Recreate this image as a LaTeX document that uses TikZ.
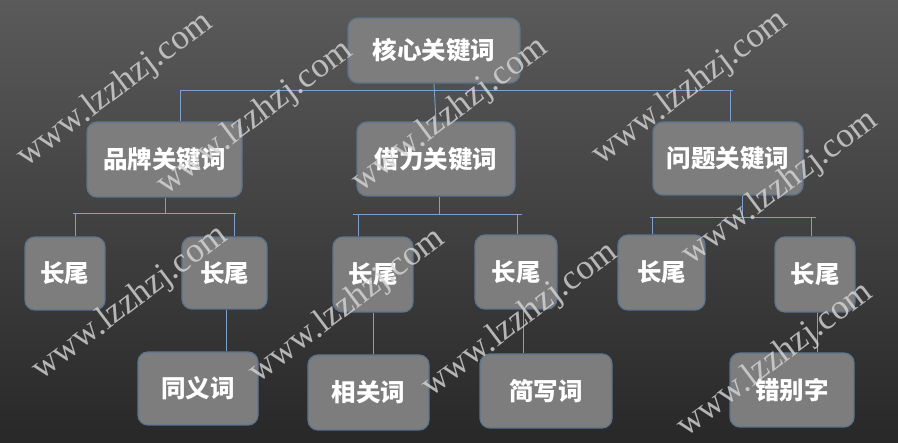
\documentclass[tikz,border=0pt]{standalone}
\usepackage{fontspec}
\setmainfont{Liberation Serif}
\newfontfamily\cjk{Noto Sans CJK SC}
\definecolor{bgtop}{RGB}{90,90,90}
\definecolor{bgbot}{RGB}{40,40,40}
\definecolor{boxfill}{RGB}{125,125,125}
\definecolor{boxline}{RGB}{92,116,142}
\definecolor{conncol}{RGB}{125,160,205}
\definecolor{wmcol}{RGB}{215,215,215}
\tikzset{
  kbox/.style={draw=boxline, line width=1.3pt, fill=boxfill, rounded corners=10pt,
    minimum width=#1, inner sep=0pt, font=\cjk\bfseries\fontsize{24.5}{28}\selectfont, text=white},
  conn/.style={draw=conncol, line width=0.9pt},
  wm/.style={text=wmcol, opacity=0.8, rotate=37, font=\fontsize{35}{38}\selectfont, inner sep=0pt}
}
\begin{document}
\begin{tikzpicture}[x=1pt, y=-1pt]
\useasboundingbox (0,0) rectangle (898,443);
\shade[top color=bgtop, bottom color=bgbot] (0,0) rectangle (898,443);
% boxes
\node[kbox=172pt, minimum height=65pt] (core) at (434,50.5) {核心关键词};
\node[kbox=155pt, minimum height=75pt] (pinpai) at (164.5,159.5) {品牌关键词};
\node[kbox=158pt, minimum height=74pt] (jieli) at (436,159) {借力关键词};
\node[kbox=150pt, minimum height=73pt] (wenti) at (728,158.5) {问题关键词};
\node[kbox=80pt, minimum height=73pt] (cw1) at (65,273.5) {长尾};
\node[kbox=85pt, minimum height=72pt] (cw2) at (224.5,273) {长尾};
\node[kbox=80pt, minimum height=75pt] (cw3) at (373,274.5) {长尾};
\node[kbox=82pt, minimum height=74pt] (cw4) at (516,272) {长尾};
\node[kbox=87pt, minimum height=75pt] (cw5) at (661.5,272.5) {长尾};
\node[kbox=80pt, minimum height=75pt] (cw6) at (815,274.5) {长尾};
\node[kbox=120pt, minimum height=73pt] (tyc) at (198,388.5) {同义词};
\node[kbox=121pt, minimum height=75pt] (xgc) at (368.5,392.5) {相关词};
\node[kbox=132pt, minimum height=74pt] (jxc) at (546,391) {简写词};
\node[kbox=124pt, minimum height=74pt] (cbz) at (792,390) {错别字};
% level 1 connectors
\coordinate (b1L) at (180,90);
\coordinate (b1R) at (733,90);
\draw[conn] (b1L) -- (b1R);
\draw[conn] (core.south) -- (jieli.north);
\draw[conn] (b1L) -- (b1L |- pinpai.north);
\draw[conn] ([xshift=-3pt]b1R) -- ([xshift=-3pt]b1R |- wenti.north);
% level 2: pinpai
\coordinate (p1) at (165,213);
\coordinate (p1L) at (73,213);
\coordinate (p1R) at (236,213);
\draw[conn] (p1 |- pinpai.south) -- (p1);
\draw[conn] (p1L) -- (p1R);
\draw[conn] ([xshift=2pt]p1L) -- ([xshift=2pt]p1L |- cw1.north);
\draw[conn] ([xshift=-2pt]p1R) -- ([xshift=-2pt]p1R |- cw2.north);
% level 2: jieli
\coordinate (j1) at (439,214);
\coordinate (j1L) at (353,214);
\coordinate (j1R) at (522,214);
\draw[conn] (j1 |- jieli.south) -- (j1);
\draw[conn] (j1L) -- (j1R);
\draw[conn] ([xshift=5pt]j1L) -- ([xshift=5pt]j1L |- cw3.north);
\draw[conn] ([xshift=-5pt]j1R) -- ([xshift=-5pt]j1R |- cw4.north);
% level 2: wenti
\coordinate (w1) at (742,217);
\coordinate (w1L) at (650,217);
\coordinate (w1R) at (816,217);
\draw[conn] (w1 |- wenti.south) -- (w1);
\draw[conn] (w1L) -- (w1R);
\draw[conn] ([xshift=2pt]w1L) -- ([xshift=2pt]w1L |- cw5.north);
\draw[conn] ([xshift=-5pt]w1R) -- ([xshift=-5pt]w1R |- cw6.north);
% level 3
\draw[conn] (226,0 |- cw2.south) -- (226,0 |- tyc.north);
\draw[conn] (373,0 |- cw3.south) -- (373,0 |- xgc.north);
\draw[conn] (523,0 |- cw4.south) -- (523,0 |- jxc.north);
\draw[conn] (817,0 |- cw6.south) -- (817,0 |- cbz.north);
% watermarks
\node[wm] (wmA) at (115,90) {www.lzzhzj.com};
\node[wm] (wmB) at (255,118) {www.lzzhzj.com};
\node[wm] (wmC) at (450,115) {www.lzzhzj.com};
\node[wm] (wmD) at (690,88) {www.lzzhzj.com};
\node[wm] (wmE) at (780,188) {www.lzzhzj.com};
\node[wm] (wmF) at (130,303) {www.lzzhzj.com};
\node[wm] (wmG) at (347,306) {www.lzzhzj.com};
\node[wm] (wmH) at (520,320) {www.lzzhzj.com};
\node[wm] (wmI) at (775,360) {www.lzzhzj.com};
\end{tikzpicture}
\end{document}
